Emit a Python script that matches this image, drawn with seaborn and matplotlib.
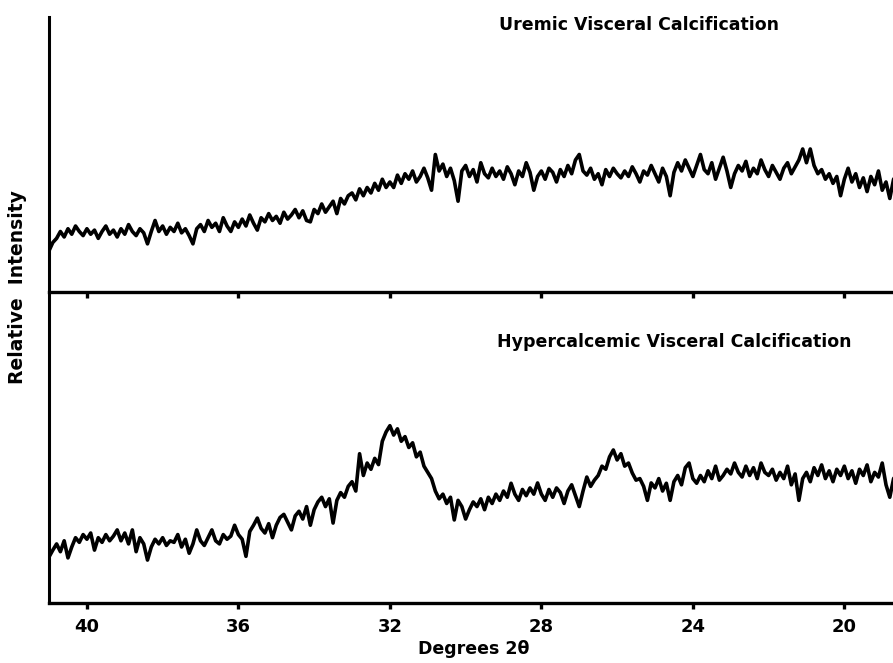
import numpy as np
import pandas as pd
import matplotlib
matplotlib.use("Agg")
import matplotlib.pyplot as plt
import seaborn as sns

sns.set_style("ticks")
plt.rcParams['font.family'] = ['DejaVu Sans']
plt.rcParams['font.weight'] = 'bold'
plt.rcParams['text.color'] = 'black'
plt.rcParams['axes.labelcolor'] = 'black'
plt.rcParams['xtick.color'] = 'black'
plt.rcParams['axes.edgecolor'] = 'black'

# ── data (0.1 deg steps from 41.0 down to 18.6) ──
two_theta = np.round(np.arange(41.0, 18.55, -0.1), 1)

uremic = [
    15, 18, 19.5, 22, 20, 23, 21, 24, 22, 20.5,
    23, 21, 22.5, 19.5, 22, 24, 21, 22.5, 20, 23,
    21, 24.5, 22, 20.5, 23, 21.5, 17.5, 22, 26, 22,
    24, 21, 23.5, 22, 25, 21.5, 23, 20.5, 17.5, 23,
    24.5, 22, 26, 23.5, 25, 22, 27, 24, 22, 25.5,
    23.5, 26.5, 24, 28, 25, 22.5, 27, 25.5, 28.5, 26,
    27.5, 25, 29, 26.5, 28, 30, 27, 29.5, 26, 25.5,
    30, 28.5, 32, 29, 31, 33, 28.5, 34, 32, 35,
    36, 33.5, 37.5, 35, 38, 36, 39.5, 37, 41, 38,
    40, 38, 42.5, 39.5, 43, 41, 44, 40, 42, 45,
    41.5, 37, 50, 44, 46.5, 42, 45, 40.5, 33, 44,
    46, 42, 44.5, 40, 47, 43, 41.5, 45, 42, 44,
    41, 45.5, 43, 39, 44, 42, 47, 43.5, 37, 42,
    44, 41, 45, 43.5, 40, 44.5, 42, 46, 43, 48,
    50, 44, 42.5, 45, 41, 43, 39, 44.5, 42, 45,
    43, 41.5, 44, 42, 45.5, 43, 40, 44, 42.5, 46,
    43, 40, 45, 42, 35, 43.5, 47, 44, 48, 45,
    42, 46, 50, 44.5, 43, 47, 41, 45, 49, 44,
    38, 43, 46, 44, 47.5, 42, 45, 43, 48, 44.5,
    42, 46, 43.5, 41, 45, 47, 43, 45.5, 48, 52,
    47, 52, 46, 43, 44.5, 41, 43, 39.5, 42, 35,
    41, 45, 40, 43, 38, 41.5, 36.5, 42, 39, 44,
    37, 40, 34, 41, 43,
]

hypercalcemic = [
    14.8, 17, 19, 16.5, 20, 14.5, 18, 21, 19.5, 22,
    20.5, 22.5, 17, 21, 19.5, 22, 20, 21.5, 23.5, 20,
    22.5, 19, 23.5, 16.5, 21, 19, 13.8, 18, 20.5, 19,
    21, 18.5, 20, 19.5, 22, 18, 20.5, 16, 19, 23.5,
    20, 18.5, 21, 23.5, 20, 19, 22, 20.5, 21.5, 25,
    22, 20.5, 15, 23, 25, 27.3, 24, 22.5, 25.5, 21,
    25, 27.5, 28.5, 26, 23.5, 28, 29.5, 27, 31, 25,
    30, 32.5, 34, 31, 33.5, 25.7, 33, 35.5, 34, 37.5,
    39, 36, 48, 41, 45, 43, 46.5, 44.5, 52, 55,
    57, 54, 56, 52, 53.5, 50, 51.5, 47, 48.5, 44,
    42, 40, 36, 33.5, 35, 32, 34, 26.7, 33, 31,
    27, 30, 32.5, 31, 33.5, 30, 34, 32, 35, 33,
    36, 34, 38.5, 35, 33, 36.5, 34.5, 37, 35, 38.6,
    35, 33, 36.5, 34, 37, 35.5, 32, 36, 38, 34.5,
    31, 36, 40.5, 37.5, 39.5, 41, 44, 43, 47, 49.2,
    46, 48, 44, 45, 41.8, 39.5, 40, 37.5, 33, 38.6,
    37, 40, 36, 38.5, 33, 39, 41, 38, 43.5, 45,
    40, 38.5, 41, 39, 42.5, 40, 44, 39.5, 41, 43,
    41.5, 45, 42, 40.5, 44, 41, 43.5, 40, 45, 42,
    41, 43, 39.5, 42, 40, 44, 38, 41.5, 33, 40,
    42, 39, 43.5, 41, 44.4, 40, 42.5, 39, 43, 41,
    44, 40, 42.5, 38.5, 43, 41, 44.4, 39, 42, 40.5,
    45, 38, 34, 40, 41.8,
]

tick_vals = [40, 36, 32, 28, 24, 20]
titles = ["Uremic Visceral Calcification", "Hypercalcemic Visceral Calcification"]

df_top = pd.DataFrame({"deg": two_theta, "I": uremic})
df_bot = pd.DataFrame({"deg": two_theta, "I": hypercalcemic})

# ── figure ──
fig = plt.figure(figsize=(8.93, 6.63), dpi=100)
ax_bot = fig.add_axes([0.0549, 0.0905, 0.95, 0.4691])
ax_top = fig.add_axes([0.0549, 0.5596, 0.95, 0.4148])

for ax, d in [(ax_top, df_top), (ax_bot, df_bot)]:
    ax.patch.set_visible(False)
    sns.lineplot(data=d, x="deg", y="I", ax=ax, color="black",
                 linewidth=2.6, estimator=None, sort=False)
    ax.set_xlim(41.0, 18.6)
    ax.set_ylim(0, 100)
    sns.despine(ax=ax, top=True, right=True)
    ax.spines["left"].set_linewidth(2.2)
    ax.spines["bottom"].set_linewidth(2.4)
    ax.set_xticks(tick_vals)
    ax.set_yticks([])
    ax.tick_params(axis="x", direction="out", length=4, width=2.4, color="black")
    ax.set_xlabel("")
    ax.set_ylabel("")

ax_top.set_xticklabels([])
ax_bot.set_xticklabels([str(t) for t in tick_vals], fontsize=13, fontweight="bold")
ax_bot.tick_params(axis="x", pad=7)
ax_bot.set_xlabel("Degrees 2\u03b8", fontsize=12.5, fontweight="bold",
                  labelpad=3, color="black")

ax_top.text(0.695, 0.972, titles[0], transform=ax_top.transAxes,
            ha="center", va="center", fontsize=12.5, fontweight="bold")
ax_bot.text(0.737, 0.84, titles[1], transform=ax_bot.transAxes,
            ha="center", va="center", fontsize=12.5, fontweight="bold")

fig.text(18 / 893, 1 - 287 / 663, "Relative  Intensity", rotation=90,
         ha="center", va="center", fontsize=13.5, fontweight="bold")

fig.savefig("out.png", dpi=100)
